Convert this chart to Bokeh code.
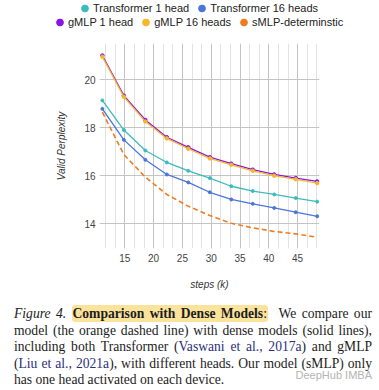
from bokeh.plotting import figure
from bokeh.models import Legend, LegendItem, SingleIntervalTicker, Div, Spacer
from bokeh.layouts import column, row
from bokeh.embed import file_html
from bokeh.resources import INLINE

# ---- data ----
steps = [11.1, 14.83, 18.56, 22.29, 26.02, 29.75, 33.48, 37.21, 40.94, 44.67, 48.4]
transformer_1 = [19.13, 17.9, 17.05, 16.55, 16.2, 15.9, 15.56, 15.36, 15.22, 15.07, 14.92]
transformer_16 = [18.78, 17.49, 16.66, 16.05, 15.72, 15.31, 15.01, 14.83, 14.66, 14.48, 14.31]
gmlp_1 = [21.0, 19.33, 18.32, 17.6, 17.18, 16.77, 16.5, 16.25, 16.05, 15.9, 15.76]
gmlp_16 = [20.95, 19.28, 18.25, 17.55, 17.12, 16.72, 16.45, 16.2, 16.0, 15.85, 15.69]
smlp_det = [18.64, 16.88, 15.94, 15.22, 14.73, 14.34, 14.02, 13.83, 13.68, 13.58, 13.44]

names = ["Transformer 1 head", "Transformer 16 heads", "gMLP 1 head", "gMLP 16 heads", "sMLP-determinstic"]
colors = ["#3bbcbc", "#4a76dc", "#8a14e6", "#f6b82a", "#f07c22"]
x_label = "steps (k)"
y_label = "Valid Perplexity"

FONT = "Liberation Sans"
all_series = [transformer_1, transformer_16, gmlp_1, gmlp_16, smlp_det]


# ---- legend rows (each on its own small canvas above the chart) ----
def legend_row(idx, width, height):
    f = figure(width=width, height=height, x_range=(0, 1), y_range=(0, 1),
               x_axis_type=None, y_axis_type=None, output_backend="svg", toolbar_location=None,
               min_border_left=0, min_border_right=0, min_border_top=0, min_border_bottom=0)
    f.outline_line_color = None
    items = []
    for i in idx:
        r = f.scatter(steps, all_series[i], size=7, fill_color=colors[i], line_color=colors[i])
        items.append(LegendItem(label=names[i], renderers=[r]))
    lg = Legend(items=items, orientation="horizontal", location="left")
    lg.border_line_alpha = 0
    lg.background_fill_alpha = 0
    lg.padding = 0
    lg.margin = 0
    lg.spacing = 4
    lg.glyph_width = 17
    lg.glyph_height = 18
    lg.label_height = 18
    lg.label_standoff = 0
    lg.label_text_font = FONT
    lg.label_text_font_size = "11px"
    lg.label_text_color = "#222222"
    f.add_layout(lg)
    return f


row1 = row(Spacer(width=76, height=15), legend_row([0, 1], 303, 15), spacing=0)
row2 = row(Spacer(width=51, height=14), legend_row([2, 3, 4], 328, 14), spacing=0)

# ---- chart ----
p = figure(width=379, height=265, x_range=(10.6, 48.8), y_range=(12.97, 21.5),
           output_backend="svg", toolbar_location=None,
           min_border_left=99, min_border_right=60, min_border_top=14, min_border_bottom=46)
p.outline_line_color = None

p.xaxis.ticker = SingleIntervalTicker(interval=5, num_minor_ticks=3)
p.yaxis.ticker = SingleIntervalTicker(interval=2, num_minor_ticks=0)

for ax in (p.xaxis[0], p.yaxis[0]):
    ax.axis_line_color = None
    ax.major_tick_line_color = None
    ax.minor_tick_line_color = None
    ax.major_tick_out = 0
    ax.minor_tick_out = 0
    ax.major_label_text_font = FONT
    ax.major_label_text_font_size = "10px"
    ax.major_label_text_color = "#444444"
    ax.axis_label_text_font = FONT
    ax.axis_label_text_font_size = "10px"
    ax.axis_label_text_font_style = "italic"
    ax.axis_label_text_color = "#333333"

p.xaxis.axis_label = x_label
p.yaxis.axis_label = y_label
p.xaxis.major_label_standoff = 5
p.xaxis.axis_label_standoff = 14
p.yaxis.major_label_standoff = 4
p.yaxis.axis_label_standoff = 14

p.xgrid.grid_line_color = "#c4c4c4"
p.xgrid.minor_grid_line_color = "#e2e2e2"
p.ygrid.grid_line_color = "#c4c4c4"

marker_sizes = [3, 3, 3.5, 3.5]
for vals, col, ms in zip(all_series[:4], colors[:4], marker_sizes):
    p.line(steps, vals, line_color=col, line_width=1.3)
    p.scatter(steps, vals, size=ms, fill_color=col, line_color=col)

p.line(steps, smlp_det, line_color=colors[4], line_width=1.6, line_dash="5 3")

line_style = "text-align:justify;text-align-last:justify;white-space:nowrap;"
cite = "color:#2b2f7a;"
caption = f"""
<div style="position:relative;width:358px;margin:0 0 0 9px;padding-top:7px;
font-family:'Liberation Serif';font-size:13.6px;line-height:16.6px;color:#1c1c1c;">
<div style="{line_style}"><i>Figure 4.</i> <span style="background:#fbe39c;border-radius:3px;padding:1px 1px;"><b>Comparison with Dense Models</b>:</span>&nbsp; We compare our</div>
<div style="{line_style}">model (the orange dashed line) with dense models (solid lines),</div>
<div style="{line_style}">including both Transformer (<span style="{cite}">Vaswani et al., 2017a</span>) and gMLP</div>
<div style="{line_style}">(<span style="{cite}">Liu et al., 2021a</span>), with different heads. Our model (sMLP) only</div>
<div style="text-align:left;white-space:nowrap;">has one head activated on each device.</div>
<span style="position:absolute;right:0px;bottom:5px;font-family:'Liberation Sans';font-size:11px;color:#b4b4b4;">DeepHub IMBA</span>
</div>
"""
div = Div(text=caption, width=379, height=96)

layout = column(row1, row2, p, div, spacing=0)
open("out.html", "w").write(file_html(layout, INLINE))
